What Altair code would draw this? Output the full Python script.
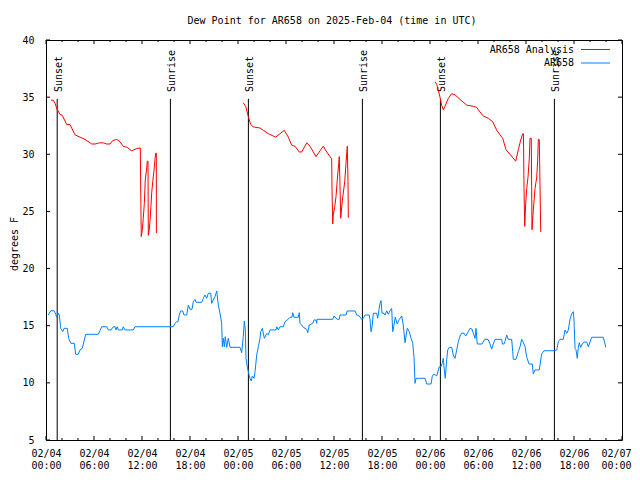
import altair as alt
import pandas as pd

# ---------------- data (hours since 2025-02-04 00:00 UTC, degrees F) ----------------
analysis_hours_1 = [0.63, 0.91, 1.13, 1.41, 1.75, 2.04, 2.59, 3.0, 3.63, 4.25, 4.88, 5.71, 6.13, 6.66,
                    7.16, 7.59, 8.0, 8.34, 8.84, 9.25, 9.66, 10.16, 10.71, 11.34, 11.79, 11.84, 11.91,
                    12.04, 12.16, 12.29, 12.41, 12.59, 12.66, 12.75, 12.79, 12.91, 13.04, 13.21, 13.34,
                    13.5, 13.63, 13.71, 13.79, 13.8]
analysis_dew_1 = [34.73, 34.73, 34.46, 33.9, 33.5, 33.4, 32.6, 32.6, 31.7, 31.5, 31.3, 30.9, 30.9, 31.0,
                  31.0, 30.9, 30.9, 31.2, 31.3, 31.1, 30.7, 30.6, 30.3, 30.5, 30.55, 26.7, 22.8,
                  23.4, 24.4, 25.7, 27.75, 28.8, 29.4, 29.4, 22.9, 23.4, 24.5, 26.6, 27.6,
                  28.6, 29.6, 30.1, 30.1, 23.1]

analysis_hours_2 = [24.66, 24.96, 25.29, 25.59, 25.91, 26.75, 27.16, 27.79, 28.71, 29.25, 29.79, 30.29,
                    30.71, 31.13, 31.66, 31.96, 32.59, 33.0, 33.75, 34.25, 34.66, 35.09, 35.5, 35.71,
                    35.75, 35.84, 35.91, 36.09, 36.25, 36.41, 36.59, 36.66, 36.75, 36.84, 37.0, 37.16,
                    37.34, 37.5, 37.66, 37.75, 37.79]
analysis_dew_2 = [34.5, 34.2, 33.3, 32.6, 32.4, 32.3, 32.1, 31.8, 31.5, 31.8, 32.1, 31.5,
                  30.8, 30.7, 30.2, 30.2, 31.0, 30.7, 29.8, 30.3, 30.7, 30.2, 29.8, 29.6,
                  26.9, 23.9, 24.7, 25.4, 26.3, 27.75, 29.2, 29.8, 27.2, 24.4, 25.7, 26.6,
                  27.6, 29.2, 30.7, 27.6, 24.45]

analysis_hours_3 = [48.63, 48.84, 49.04, 49.25, 49.46, 49.66, 49.88, 50.29, 50.71, 51.13, 51.75, 52.59,
                    53.41, 53.84, 54.25, 54.66, 55.29, 55.84, 56.34, 56.75, 57.09, 57.5, 58.0, 58.71,
                    59.04, 59.34, 59.59, 59.68, 59.75, 59.84, 59.96, 60.09, 60.25, 60.41, 60.5, 60.66,
                    60.75, 60.91, 61.13, 61.34, 61.46, 61.54, 61.66, 61.75, 61.84]
analysis_dew_3 = [36.35, 36.1, 35.6, 35.0, 34.3, 33.9, 34.2, 34.9, 35.3, 35.2, 34.8, 34.3,
                  34.2, 34.1, 33.7, 33.35, 33.15, 32.85, 32.1, 31.7, 31.4, 30.4, 30.0, 29.4,
                  30.4, 31.25, 31.8, 31.8, 27.0, 23.7, 25.7, 27.0, 28.0, 29.6, 31.4, 31.4,
                  23.4, 25.1, 27.0, 28.0, 29.5, 31.3, 31.3, 27.3, 23.2]

obs_hours = [0.29, 0.59, 1.0, 1.21, 1.34, 1.54, 1.66, 1.84, 2.09, 2.25, 2.66, 2.84, 3.09, 3.54, 3.71,
             4.04, 4.25, 4.54, 4.79, 4.96, 6.54, 6.75, 6.96, 7.59, 7.79, 8.13, 8.41, 8.63, 8.75, 8.91,
             9.04, 9.54, 9.66, 9.88, 10.91, 11.13, 15.5, 15.91, 16.13, 16.34, 16.5, 16.66, 16.84,
             17.09, 17.25, 17.59, 17.79, 18.0, 18.25, 18.41, 18.63, 18.75, 19.46, 19.66, 19.88,
             20.09, 20.29, 20.59, 20.71, 20.91, 21.13, 21.34, 21.54, 21.75, 21.96, 22.04, 22.16,
             22.29, 22.41, 22.59, 22.79, 23.0, 24.25, 24.46, 24.66, 24.79, 24.91, 25.0, 25.16,
             25.38, 25.5, 25.66, 25.79, 26.0, 26.13, 26.34, 26.54, 26.75, 26.84, 27.04, 27.29,
             27.59, 27.79, 28.0, 28.75, 28.84, 29.04, 29.25, 29.66, 29.88, 30.16, 30.5, 30.75,
             30.84, 31.0, 31.54, 31.66, 31.75, 31.96, 32.16, 32.59, 32.71, 32.91, 33.34, 33.5,
             33.75, 33.84, 33.88, 35.84, 36.0, 36.41, 36.66, 36.75, 37.5, 37.66, 38.63, 38.84,
             39.16, 39.46, 39.66, 39.88, 40.41, 40.5, 40.63, 40.79, 40.91, 41.34, 41.46, 41.63,
             41.75, 41.88, 42.0, 42.25, 42.38, 42.59, 42.79, 43.09, 43.21, 43.34, 43.5, 43.66,
             43.91, 44.16, 44.46, 44.66, 44.88, 45.16, 45.41, 45.63, 45.84, 46.0, 46.13, 46.25,
             47.38, 47.59, 48.13, 48.29, 48.5, 48.84, 49.04, 49.16, 49.38, 49.54, 49.66, 49.79,
             49.91, 50.09, 50.21, 50.41, 50.71, 50.91, 51.13, 51.34, 51.54, 51.75, 51.96, 52.25,
             52.46, 52.79, 53.0, 53.25, 53.41, 53.63, 53.75, 53.91, 54.5, 54.84, 55.25, 55.5,
             55.71, 55.91, 56.13, 56.96, 57.04, 57.25, 57.41, 57.59, 57.79, 58.21, 58.34, 58.41,
             58.75, 59.04, 59.25, 59.46, 59.66, 59.88, 60.09, 60.38, 60.79, 60.91, 61.13, 61.66,
             61.84, 61.96, 62.25, 63.54, 63.84, 64.04, 64.25, 64.66, 64.88, 65.09, 65.29, 65.5,
             65.71, 65.91, 66.0, 66.13, 66.25, 66.41, 66.54, 66.66, 66.84, 67.04, 67.25, 67.59,
             67.79, 68.0, 68.21, 69.66, 69.88, 69.96]
obs_dew = [15.94, 16.31, 16.31, 16.03, 15.74, 16.09, 15.94, 14.77, 14.48, 14.77, 14.77, 13.9, 13.46,
           13.46, 12.5, 12.5, 12.88, 13.02, 13.75, 14.25, 14.25, 14.56, 14.91, 14.91, 14.63, 14.63,
           14.91, 14.91, 14.63, 14.91, 14.63, 14.63, 14.91, 14.63, 14.63, 14.91, 14.91, 14.91,
           15.21, 15.35, 15.35, 15.94, 16.29, 16.29, 15.94, 15.94, 16.81, 16.44, 16.44, 17.1,
           17.31, 17.05, 17.05, 17.4, 17.69, 17.4, 17.84, 17.84, 16.96, 17.25, 17.54, 18.04,
           16.81, 16.09, 15.21, 13.16, 13.9, 13.16, 14.04, 13.11, 13.9, 13.11, 13.11, 12.64,
           14.04, 15.41, 14.69, 12.15, 11.41, 10.69, 10.4, 10.16, 10.6, 10.4, 10.98, 12.44,
           13.16, 13.9, 14.48, 14.77, 13.9, 14.33, 14.2, 14.63, 14.63, 14.91, 14.63, 14.91,
           14.91, 15.35, 15.5, 15.74, 15.74, 16.14, 15.74, 15.74, 16.14, 15.21, 15.06, 14.86,
           14.69, 14.39, 15.06, 15.21, 15.5, 15.5, 15.21, 15.56, 15.56, 15.85, 15.56, 15.56,
           15.94, 15.94, 16.29, 16.29, 15.94, 15.85, 15.56, 15.65, 15.94, 15.94, 15.56, 14.48,
           15.06, 16.09, 16.09, 15.65, 16.44, 16.96, 17.2, 16.09, 16.09, 15.94, 16.31, 16.0,
           16.44, 16.5, 14.48, 15.06, 15.74, 15.15, 15.56, 15.85, 15.06, 13.51, 14.77, 14.48,
           13.9, 13.46, 12.24, 9.96, 10.4, 10.4, 9.9, 9.9, 10.6, 10.78, 10.6, 11.13, 11.41,
           11.41, 11.76, 12.15, 11.13, 10.4, 12.06, 12.88, 13.11, 13.11, 12.44, 12.15, 12.88,
           13.6, 14.1, 14.35, 14.35, 14.1, 14.48, 14.77, 14.7, 14.35, 13.9, 14.77, 13.4, 13.4,
           13.81, 13.81, 13.4, 12.95, 13.4, 13.81, 13.81, 13.4, 13.4, 13.7, 14.19, 13.81, 13.81,
           12.73, 12.06, 12.06, 12.73, 13.16, 13.81, 13.55, 13.16, 12.24, 11.65, 11.65, 10.78,
           11.13, 11.13, 12.0, 12.53, 12.81, 12.81, 12.88, 13.6, 13.81, 13.81, 14.63, 14.33,
           14.63, 15.56, 16.03, 16.23, 15.5, 13.02, 12.9, 12.15, 13.1, 13.51, 13.11, 13.4,
           13.57, 13.57, 13.16, 13.57, 13.99, 13.99, 13.4, 13.11]

sun_hours = [1.4, 15.55, 25.3, 39.55, 49.3, 63.55]
sun_labels = ["Sunset", "Sunrise", "Sunset", "Sunrise", "Sunset", "Sunrise"]

x_label_hours = [0, 6, 12, 18, 24, 30, 36, 42, 48, 54, 60, 66, 72]
x_minor_hours = [h for h in range(0, 73, 2) if h % 6 != 0]
y_tick_values = [5, 10, 15, 20, 25, 30, 35, 40]

legend_labels = ["AR658 Analysis", "AR658"]
series_colors = ["#ff0000", "#0080ff"]
chart_title = "Dew Point for AR658 on 2025-Feb-04 (time in UTC)"
y_title = "degrees F"

# ---------------- build tables ----------------
FONT = "DejaVu Sans Mono"
W, H = 576, 400

rows = []
for seg, (hs, vs) in enumerate([(analysis_hours_1, analysis_dew_1),
                                (analysis_hours_2, analysis_dew_2),
                                (analysis_hours_3, analysis_dew_3)]):
    for i, (h, v) in enumerate(zip(hs, vs)):
        rows.append({"hour": h, "dew": v, "seg": seg, "idx": i})
red_df = pd.DataFrame(rows)
blue_df = pd.DataFrame({"hour": obs_hours, "dew": obs_dew, "idx": list(range(len(obs_hours)))})
sun_df = pd.DataFrame({"hour": sun_hours, "label": sun_labels})
major_df = pd.DataFrame({"hour": x_label_hours})
minor_df = pd.DataFrame({"hour": x_minor_hours})
ytick_df = pd.DataFrame({"dew": y_tick_values})

x_scale = alt.Scale(domain=[0, 72], nice=False, zero=False)
y_scale = alt.Scale(domain=[5, 40], nice=False, zero=False)

label_expr = ("['02/0' + (4 + floor(datum.value / 24)), "
              "(datum.value % 24 < 10 ? '0' : '') + (datum.value % 24) + ':00']")

x_axis = alt.Axis(values=x_label_hours, labelExpr=label_expr, ticks=False, domain=False,
                  grid=False, labelFlush=False, labelOverlap=False, labelFont=FONT,
                  labelFontSize=10, labelColor="black", labelPadding=8, labelLineHeight=12,
                  labelOffset={"condition": {"test": "datum.value >= 72", "value": -6}, "value": 0},
                  title=None)
y_axis = alt.Axis(values=y_tick_values, ticks=False, domain=False, grid=False,
                  labelFont=FONT, labelFontSize=10, labelColor="black", labelPadding=12,
                  title=None)

X = alt.X("hour:Q", scale=x_scale, axis=x_axis)
Y = alt.Y("dew:Q", scale=y_scale, axis=y_axis)

sun_rules = alt.Chart(sun_df).mark_rule(color="black", strokeWidth=1).encode(
    x=X, y=alt.datum(34.85), y2=alt.datum(5))
sun_text = alt.Chart(sun_df).mark_text(angle=270, align="left", baseline="middle", dy=1.5,
                                       font=FONT, fontSize=10, color="black").encode(
    x="hour:Q", y=alt.datum(35.45), text="label:N")

red = alt.Chart(red_df).mark_line(color=series_colors[0], strokeWidth=1).encode(
    x="hour:Q", y=Y, detail="seg:N", order="idx:Q")
blue = alt.Chart(blue_df).mark_line(color=series_colors[1], strokeWidth=1).encode(
    x="hour:Q", y="dew:Q", order="idx:Q")

tick_layers = [
    alt.Chart(major_df).mark_rule(color="black").encode(x="hour:Q", y=alt.value(H), y2=alt.value(H - 4)),
    alt.Chart(major_df).mark_rule(color="black").encode(x="hour:Q", y=alt.value(0), y2=alt.value(4)),
    alt.Chart(minor_df).mark_rule(color="black").encode(x="hour:Q", y=alt.value(H), y2=alt.value(H - 2)),
    alt.Chart(minor_df).mark_rule(color="black").encode(x="hour:Q", y=alt.value(0), y2=alt.value(2)),
    alt.Chart(ytick_df).mark_rule(color="black").encode(y="dew:Q", x=alt.value(0), x2=alt.value(4)),
    alt.Chart(ytick_df).mark_rule(color="black").encode(y="dew:Q", x=alt.value(W), x2=alt.value(W - 4)),
]

legend_layers = []
for i, (lab, col) in enumerate(zip(legend_labels, series_colors)):
    ypix = 9.5 + 13.5 * i
    legend_layers.append(
        alt.Chart(pd.DataFrame({"t": [lab]})).mark_text(
            align="right", baseline="middle", font=FONT, fontSize=10, color="black").encode(
            x=alt.value(528), y=alt.value(ypix), text="t:N"))
    legend_layers.append(
        alt.Chart(pd.DataFrame({"t": [lab]})).mark_rule(color=col, strokeWidth=1).encode(
            x=alt.value(535), x2=alt.value(564), y=alt.value(ypix)))

title_layer = alt.Chart(pd.DataFrame({"t": [chart_title]})).mark_text(
    align="center", baseline="middle", font=FONT, fontSize=10, color="black").encode(
    x=alt.value(286), y=alt.value(-19.5), text="t:N")
ytitle_layer = alt.Chart(pd.DataFrame({"t": [y_title]})).mark_text(
    align="center", baseline="middle", angle=270, font=FONT, fontSize=10, color="black").encode(
    x=alt.value(-31), y=alt.value(204), text="t:N")

chart = alt.layer(
    sun_rules, sun_text, red, blue, *tick_layers, *legend_layers, title_layer, ytitle_layer
).properties(
    width=W, height=H,
    padding={"left": 38, "top": 32, "right": 10, "bottom": 32},
    autosize=alt.AutoSizeParams(type="none"),
    background="white",
).configure_view(stroke="black", strokeWidth=1)

chart.save("out.html", embed_options={"renderer": "svg", "actions": False})
